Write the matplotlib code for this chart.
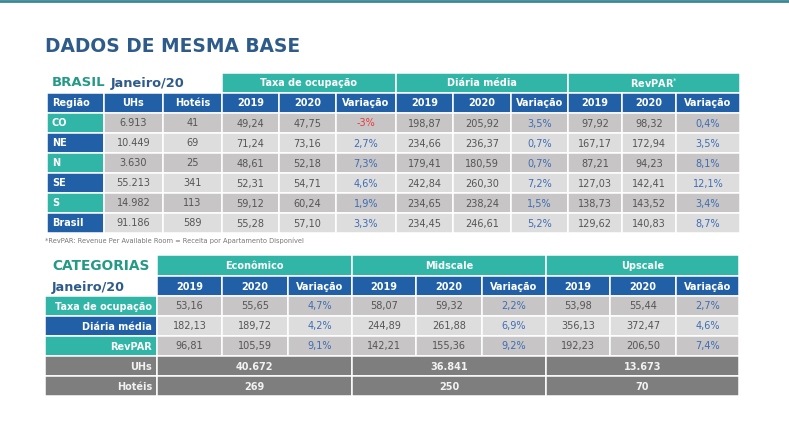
import matplotlib.pyplot as plt
from matplotlib.patches import Rectangle

# ---- data: Brasil por região, Janeiro/20
regions = ['CO', 'NE', 'N', 'SE', 'S', 'Brasil']
uhs = [6913, 10449, 3630, 55213, 14982, 91186]
hoteis = [41, 69, 25, 341, 113, 589]
taxa_2019 = [49.24, 71.24, 48.61, 52.31, 59.12, 55.28]
taxa_2020 = [47.75, 73.16, 52.18, 54.71, 60.24, 57.10]
taxa_var = [-3, 2.7, 7.3, 4.6, 1.9, 3.3]
diaria_2019 = [198.87, 234.66, 179.41, 242.84, 234.65, 234.45]
diaria_2020 = [205.92, 236.37, 180.59, 260.30, 238.24, 246.61]
diaria_var = [3.5, 0.7, 0.7, 7.2, 1.5, 5.2]
revpar_2019 = [97.92, 167.17, 87.21, 127.03, 138.73, 129.62]
revpar_2020 = [98.32, 172.94, 94.23, 142.41, 143.52, 140.83]
revpar_var = [0.4, 3.5, 8.1, 12.1, 3.4, 8.7]

# ---- data: categorias
cats = ['Econômico', 'Midscale', 'Upscale']
cat_rows = ['Taxa de ocupação', 'Diária média', 'RevPAR']
cat_2019 = [[53.16, 58.07, 53.98], [182.13, 244.89, 356.13], [96.81, 142.21, 192.23]]
cat_2020 = [[55.65, 59.32, 55.44], [189.72, 261.88, 372.47], [105.59, 155.36, 206.50]]
cat_var = [[4.7, 2.2, 2.7], [4.2, 6.9, 4.6], [9.1, 9.2, 7.4]]
cat_uhs = [40672, 36841, 13673]
cat_hoteis = [269, 250, 70]

TEAL = '#30b5a6'
BLUE = '#2160a6'
DARK = '#2e5b8a'
GREEN = '#249a86'
GRAY1 = '#c7c5c6'
GRAY2 = '#dedddd'
GRAY3 = '#7e7e7e'
TXT = '#555555'
VBLUE = '#3d6db3'
RED = '#e23c40'


def dec(v):
    return f"{v:.2f}".replace('.', ',')


def mil(v):
    return f"{v:,}".replace(',', '.')


def pct(v):
    return f"{v}".replace('.', ',') + '%'


fig = plt.figure(figsize=(7.89, 4.29), dpi=100)
ax = fig.add_axes([0, 0, 1, 1])
ax.set_xlim(0, 789)
ax.set_ylim(429, 0)
ax.axis('off')


def cell(x0, x1, y0, y1, fc, s='', color='white', ha='center', weight='normal', size=7):
    ax.add_patch(Rectangle((x0, y0), x1 - x0, y1 - y0, facecolor=fc,
                           edgecolor='white', lw=1.1))
    if s != '':
        if ha == 'center':
            tx = (x0 + x1) / 2
        elif ha == 'left':
            tx = x0 + 5
        else:
            tx = x1 - 5
        ax.text(tx, (y0 + y1) / 2 + 0.5, s, ha=ha, va='center', color=color,
                fontsize=size, fontweight=weight)


ax.plot([0, 789], [1, 1], color='#3b8795', lw=2)
ax.text(45, 46, 'DADOS DE MESMA BASE', fontsize=13.4, fontweight='bold',
        color=DARK, va='center')

# ---- table 1
xs = [47, 104, 163, 222, 279, 336, 396, 453, 511, 568, 622, 676, 740]
yg, yh = 73, 93
rh = 20

ax.text(52, 83, 'BRASIL', fontsize=9.5, fontweight='bold', color=GREEN, va='center')
ax.text(111, 83, 'Janeiro/20', fontsize=9.3, fontweight='bold', color=DARK, va='center')

groups = ['Taxa de ocupação', 'Diária média', r'RevPAR$^{*}$']
for g, name in enumerate(groups):
    cell(xs[3 + 3 * g], xs[6 + 3 * g], yg, yh, TEAL, name, weight='bold')

heads = ['Região', 'UHs', 'Hotéis'] + ['2019', '2020', 'Variação'] * 3
for j, h in enumerate(heads):
    cell(xs[j], xs[j + 1], yh, yh + rh, BLUE, h, weight='bold',
         ha='left' if j == 0 else 'center')

for i, r in enumerate(regions):
    y0 = yh + rh * (i + 1)
    bg = GRAY1 if i % 2 == 0 else GRAY2
    cell(xs[0], xs[1], y0, y0 + rh, TEAL if i % 2 == 0 else BLUE, r,
         weight='bold', ha='left')
    vals = [mil(uhs[i]), str(hoteis[i]),
            dec(taxa_2019[i]), dec(taxa_2020[i]), pct(taxa_var[i]),
            dec(diaria_2019[i]), dec(diaria_2020[i]), pct(diaria_var[i]),
            dec(revpar_2019[i]), dec(revpar_2020[i]), pct(revpar_var[i])]
    vcols = [taxa_var[i], diaria_var[i], revpar_var[i]]
    for j, v in enumerate(vals):
        c = TXT
        if j in (4, 7, 10):
            c = RED if vcols[(j - 4) // 3] < 0 else VBLUE
        cell(xs[j + 1], xs[j + 2], y0, y0 + rh, bg, v, color=c)

ax.text(45, 241, '*RevPAR: Revenue Per Available Room = Receita por Apartamento Disponível',
        fontsize=4.8, color='#777777', va='center')

# ---- table 2
lx0, lx1 = 45, 157
cx = [157, 222, 288, 352, 416, 482, 546, 610, 676, 739]
yg2, yh2 = 255, 276
ys = [296, 316, 336, 356, 376, 396]

ax.text(52, 266, 'CATEGORIAS', fontsize=9.9, fontweight='bold', color=GREEN, va='center')
ax.text(52, 287, 'Janeiro/20', fontsize=9.2, fontweight='bold', color=DARK, va='center')

for g, name in enumerate(cats):
    cell(cx[3 * g], cx[3 * g + 3], yg2, yh2, TEAL, name, weight='bold')
    for k, h in enumerate(['2019', '2020', 'Variação']):
        cell(cx[3 * g + k], cx[3 * g + k + 1], yh2, ys[0], BLUE, h, weight='bold')

for i, r in enumerate(cat_rows):
    y0, y1 = ys[i], ys[i + 1]
    bg = GRAY1 if i % 2 == 0 else GRAY2
    cell(lx0, lx1, y0, y1, TEAL if i % 2 == 0 else BLUE, r, weight='bold', ha='right')
    for g in range(3):
        cell(cx[3 * g], cx[3 * g + 1], y0, y1, bg, dec(cat_2019[i][g]), color=TXT)
        cell(cx[3 * g + 1], cx[3 * g + 2], y0, y1, bg, dec(cat_2020[i][g]), color=TXT)
        cell(cx[3 * g + 2], cx[3 * g + 3], y0, y1, bg, pct(cat_var[i][g]), color=VBLUE)

for i, (r, vals) in enumerate([('UHs', [mil(v) for v in cat_uhs]),
                               ('Hotéis', [str(v) for v in cat_hoteis])]):
    y0, y1 = ys[3 + i], ys[4 + i]
    cell(lx0, lx1, y0, y1, GRAY3, r, weight='bold', ha='right', color='#f2f2f2')
    for g in range(3):
        cell(cx[3 * g], cx[3 * g + 3], y0, y1, GRAY3, vals[g], weight='bold',
             color='#f2f2f2')

fig.savefig('out.png', dpi=100)
